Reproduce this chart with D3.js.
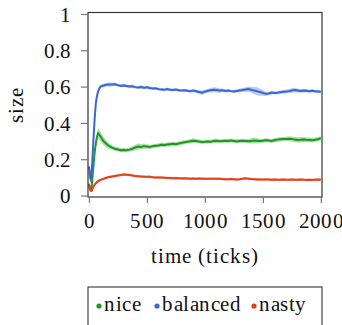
<!DOCTYPE html>
<html><head><meta charset="utf-8">
<script src="https://cdn.jsdelivr.net/npm/d3@7"></script>
<style>
@font-face { font-family: "ChartSerif"; src: local("Liberation Serif"), local("LiberationSerif"), local("LiberationSerif-Regular"), local("Times New Roman"), local("DejaVu Serif"); }
html,body{margin:0;padding:0;background:#fff;}
</style>
</head>
<body><svg id="c" width="342" height="325"></svg>
<script>
const time = [0,5,10,15,20,25,30,40,50,60,70,80,90,100,
125,150,175,200,225,250,275,300,325,350,375,400,425,450,475,500,525,550,575,600,625,650,675,700,725,750,775,800,825,850,875,900,925,950,975,1000,
1025,1050,1075,1100,1125,1150,1175,1200,1225,1250,1275,1300,1325,1350,1375,1400,1425,1450,1475,1500,1525,1550,1575,1600,1625,1650,1675,1700,1725,1750,1775,1800,1825,1850,1875,1900,1925,1950,1975,2000];

const balanced = [0.16,0.14,0.10,0.09,0.10,0.14,0.20,0.32,0.43,0.51,0.55,0.575,0.59,0.60,
0.606,0.610,0.612,0.611,0.613,0.608,0.604,0.606,0.603,0.600,0.602,0.597,0.595,0.598,0.594,0.596,0.592,0.590,0.591,0.586,0.584,0.582,0.586,0.583,0.581,0.584,0.580,0.578,0.580,0.577,0.575,0.578,0.574,0.570,0.566,0.572,
0.577,0.580,0.583,0.581,0.578,0.580,0.576,0.578,0.575,0.573,0.576,0.579,0.581,0.584,0.586,0.583,0.578,0.574,0.570,0.565,0.560,0.562,0.567,0.565,0.566,0.569,0.571,0.573,0.575,0.578,0.581,0.579,0.576,0.578,0.577,0.575,0.577,0.574,0.573,0.572];
const balancedSd = [0.02,0.02,0.015,0.012,0.012,0.012,0.012,0.012,0.012,0.012,0.01,0.01,0.01,0.01,
0.01,0.01,0.012,0.01,0.01,0.009,0.008,0.008,0.008,0.008,0.009,0.008,0.008,0.009,0.008,0.008,0.008,0.008,0.008,0.008,0.008,0.008,0.009,0.008,0.008,0.008,0.008,0.008,0.008,0.008,0.008,0.009,0.009,0.01,0.012,0.01,
0.01,0.012,0.014,0.014,0.012,0.01,0.009,0.009,0.008,0.008,0.009,0.01,0.011,0.012,0.014,0.016,0.02,0.022,0.02,0.016,0.012,0.01,0.01,0.009,0.009,0.01,0.01,0.011,0.012,0.013,0.012,0.011,0.01,0.01,0.01,0.009,0.009,0.009,0.009,0.008];

const nice = [0.06,0.045,0.035,0.03,0.035,0.06,0.10,0.17,0.24,0.29,0.325,0.343,0.335,0.325,
0.300,0.285,0.272,0.264,0.258,0.254,0.250,0.251,0.249,0.253,0.258,0.265,0.270,0.268,0.272,0.270,0.268,0.272,0.274,0.276,0.280,0.278,0.281,0.283,0.285,0.283,0.287,0.290,0.293,0.296,0.299,0.302,0.300,0.297,0.295,0.296,
0.298,0.296,0.300,0.302,0.299,0.300,0.302,0.301,0.303,0.301,0.298,0.300,0.302,0.301,0.299,0.301,0.303,0.302,0.300,0.302,0.304,0.303,0.301,0.305,0.308,0.310,0.311,0.312,0.313,0.311,0.308,0.306,0.307,0.309,0.307,0.306,0.305,0.307,0.310,0.316];
const niceSd = [0.01,0.01,0.01,0.01,0.01,0.012,0.015,0.018,0.02,0.022,0.025,0.028,0.028,0.025,
0.022,0.02,0.016,0.013,0.012,0.012,0.011,0.011,0.011,0.012,0.013,0.015,0.016,0.015,0.014,0.012,0.011,0.011,0.011,0.011,0.012,0.011,0.011,0.011,0.011,0.011,0.011,0.012,0.011,0.011,0.012,0.013,0.012,0.011,0.011,0.011,
0.011,0.011,0.012,0.012,0.011,0.011,0.011,0.011,0.011,0.012,0.012,0.011,0.011,0.011,0.013,0.015,0.016,0.015,0.012,0.011,0.011,0.011,0.011,0.012,0.012,0.012,0.012,0.012,0.013,0.014,0.015,0.015,0.015,0.014,0.014,0.013,0.012,0.012,0.012,0.011];

const nasty = [0.065,0.05,0.035,0.028,0.025,0.027,0.035,0.05,0.06,0.068,0.074,0.079,0.083,0.086,
0.092,0.098,0.102,0.105,0.108,0.111,0.113,0.116,0.115,0.113,0.110,0.107,0.106,0.105,0.104,0.103,0.103,0.101,0.100,0.099,0.099,0.098,0.097,0.096,0.095,0.096,0.095,0.094,0.095,0.094,0.093,0.094,0.093,0.094,0.093,0.093,
0.092,0.093,0.092,0.093,0.092,0.091,0.090,0.090,0.091,0.090,0.089,0.090,0.092,0.095,0.093,0.091,0.090,0.089,0.089,0.088,0.088,0.088,0.087,0.088,0.087,0.087,0.088,0.087,0.087,0.088,0.087,0.087,0.088,0.087,0.086,0.087,0.086,0.087,0.088,0.087];
const nastySd = time.map(() => 0.007);

const series = [
  {name:"nice", color:"#1a9a1a", vals:nice, sd:niceSd},
  {name:"balanced", color:"#3a66d6", vals:balanced, sd:balancedSd},
  {name:"nasty", color:"#e2401c", vals:nasty, sd:nastySd}
];
const xTicks = [0,500,1000,1500,2000];
const yTicks = [0,0.2,0.4,0.6,0.8,1];

const FONT = "ChartSerif, 'Liberation Serif'";
const svg = d3.select("#c");
const L = 88, R = 322, T = 12.5, B = 197;
const x = d3.scaleLinear().domain([-8, 2010]).range([L, R]);
const y = d3.scaleLinear().domain([-0.008, 1.008]).range([B, T]);

const plot = svg.append("g");
series.forEach(s => {
  const pts = time.map((t,i) => ({t, v:s.vals[i], sd:s.sd[i]}));
  plot.append("path").datum(pts)
    .attr("fill", s.color).attr("fill-opacity", 0.35)
    .attr("d", d3.area().x(d => x(d.t)).y0(d => y(d.v - d.sd)).y1(d => y(d.v + d.sd)));
  plot.append("path").datum(pts)
    .attr("fill", "none").attr("stroke", s.color).attr("stroke-width", 2)
    .attr("d", d3.line().x(d => x(d.t)).y(d => y(d.v)));
});

svg.append("rect").attr("x", L).attr("y", T).attr("width", R-L).attr("height", B-T)
  .attr("fill","none").attr("stroke","#333").attr("stroke-width",1.2);

const xa = svg.append("g").attr("transform",`translate(0,${B})`)
  .call(d3.axisBottom(x).tickValues(xTicks).tickSize(6).tickPadding(6).tickFormat(d3.format("d")));
const ya = svg.append("g").attr("transform",`translate(${L},0)`)
  .call(d3.axisLeft(y).tickValues(yTicks).tickSize(7).tickPadding(10).tickFormat(d => d===0||d===1 ? String(d) : d3.format(".1f")(d)));
[xa,ya].forEach(a => {
  a.attr("font-family", FONT).attr("font-size", 21);
  a.select(".domain").remove();
  a.selectAll(".tick line").attr("stroke","#777").attr("stroke-width",1.2);
  a.selectAll("text").attr("font-family", FONT).attr("font-size", 21).attr("fill","#111");
});
ya.selectAll("text").attr("dy","0.35em");
xa.selectAll("text").attr("dy","0.9em").attr("letter-spacing", 0.3);

svg.append("text").attr("x", 205).attr("y", 263).attr("text-anchor","middle")
  .attr("font-family", FONT).attr("font-size", 21).attr("letter-spacing", 1).attr("fill","#111").text("time (ticks)");
svg.append("text").attr("transform","translate(23,105) rotate(-90)").attr("text-anchor","middle")
  .attr("font-family", FONT).attr("font-size", 21).attr("letter-spacing", 0.8).attr("fill","#111").text("size");

const lg = svg.append("g");
lg.append("rect").attr("x", L).attr("y", 287).attr("width", R-L).attr("height", 50)
  .attr("fill","#fff").attr("stroke","#444").attr("stroke-width",1.2);
const legX = [99, 157, 254];
series.forEach((s,i) => {
  lg.append("circle").attr("cx", legX[i]).attr("cy", 306).attr("r", 2.6).attr("fill", s.color);
  lg.append("text").attr("x", legX[i]+5).attr("y", 311)
    .attr("font-family", FONT).attr("font-size", 21).attr("letter-spacing", 0.5).attr("fill","#111").text(s.name);
});
</script></body></html>
